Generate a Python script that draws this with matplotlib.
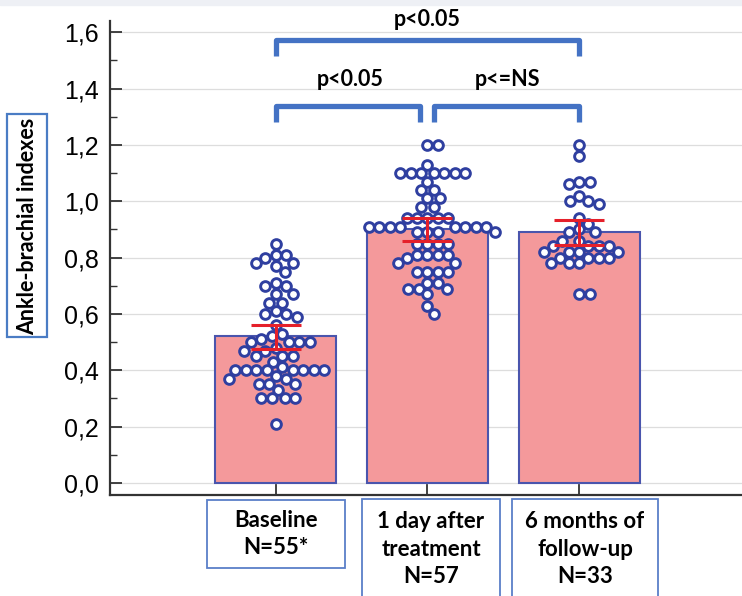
import matplotlib.pyplot as plt
import numpy as np
from matplotlib.patches import Rectangle
from matplotlib.ticker import FixedLocator, FuncFormatter

# group labels
groups = ["Baseline\nN=55*", "1 day after\ntreatment\nN=57", "6 months of\nfollow-up\nN=33"]
means = [0.52, 0.90, 0.89]
err_low = [0.475, 0.86, 0.845]
err_high = [0.56, 0.94, 0.935]

# individual ABI values
baseline = [0.85, 0.81, 0.81, 0.80, 0.78, 0.78, 0.77, 0.75, 0.71, 0.70, 0.70,
            0.67, 0.67, 0.64, 0.64, 0.61, 0.60, 0.60, 0.59, 0.56, 0.53, 0.52,
            0.51, 0.50, 0.50, 0.50, 0.50, 0.48, 0.47, 0.47, 0.45, 0.45, 0.45,
            0.43, 0.41, 0.40, 0.40, 0.40, 0.40, 0.40, 0.40, 0.40, 0.40, 0.38,
            0.37, 0.37, 0.35, 0.35, 0.35, 0.33, 0.30, 0.30, 0.30, 0.30, 0.21]
day1 = [1.20, 1.20, 1.13, 1.10, 1.10, 1.10, 1.10, 1.10, 1.10, 1.10, 1.07,
        1.04, 1.04, 1.01, 1.01, 0.98, 0.98, 0.94, 0.94, 0.94, 0.94, 0.94,
        0.91, 0.91, 0.91, 0.91, 0.91, 0.91, 0.91, 0.91, 0.89, 0.89, 0.89,
        0.89, 0.85, 0.85, 0.85, 0.85, 0.81, 0.81, 0.81, 0.81, 0.80, 0.78,
        0.78, 0.75, 0.75, 0.75, 0.75, 0.71, 0.71, 0.69, 0.69, 0.69, 0.67,
        0.63, 0.60]
month6 = [1.20, 1.16, 1.07, 1.07, 1.06, 1.02, 1.00, 1.00, 0.99, 0.94, 0.92,
          0.90, 0.89, 0.89, 0.86, 0.86, 0.84, 0.84, 0.84, 0.84, 0.82, 0.82,
          0.82, 0.82, 0.80, 0.80, 0.80, 0.80, 0.78, 0.78, 0.78, 0.67, 0.67]
points = [baseline, day1, month6]

yticks = [0.0, 0.2, 0.4, 0.6, 0.8, 1.0, 1.2, 1.4, 1.6]

W, H = 742, 596
PX_X = 152.0   # pixels per category
PX_Y = 281.0   # pixels per ABI unit
DOT = 10.5     # dot spacing in pixels


def swarm(vals):
    # simple beeswarm: closest free offset to the centre line
    placed = []
    offs = []
    for v in vals:
        y = v * PX_Y
        for step in range(0, 200):
            cands = [0.0] if step == 0 else [step * 0.5, -step * 0.5]
            ok = None
            for c in cands:
                if all((c - px) ** 2 + (y - py) ** 2 >= DOT ** 2 for px, py in placed):
                    ok = c
                    break
            if ok is not None:
                break
        placed.append((ok, y))
        offs.append(ok / PX_X)
    return np.array(offs)


fig = plt.figure(figsize=(W / 100, H / 100), dpi=100)
fig.patches.append(Rectangle((0, 1 - 5 / H), 1, 5 / H, transform=fig.transFigure,
                             color="#eef0f5", zorder=0))
ax = fig.add_axes([110 / W, 1 - 495 / H, 1 - 110 / W, (495 - 21) / H])

x = np.arange(len(groups))
ax.bar(x, means, width=0.8, color="#f4999b", edgecolor="#4a55ad", linewidth=1.5, zorder=2)
for i, vals in enumerate(points):
    ax.plot(i + swarm(vals), vals, "o", ms=7.0, mfc="white", mec="#2f3fa0",
            mew=2.1, ls="none", zorder=3)
ax.errorbar(x, means,
            yerr=[np.array(means) - np.array(err_low), np.array(err_high) - np.array(means)],
            fmt="none", ecolor="#e5202a", elinewidth=2.2, capsize=18, capthick=2.2, zorder=4)

ax.set_xlim(-1 - 14 / PX_X, 2 + (W - 579) / PX_X)
ax.set_ylim(-12 / PX_Y, 1.64)
ax.yaxis.set_major_locator(FixedLocator(yticks))
ax.yaxis.set_minor_locator(FixedLocator(np.arange(0.1, 1.6, 0.2)))
ax.yaxis.set_major_formatter(FuncFormatter(lambda v, p: f"{v:.1f}".replace(".", ",")))
ax.set_xticks(x)
ax.set_xticklabels([])
ax.tick_params(axis="both", direction="in", length=8.5, width=1.3, color="#333333")
ax.tick_params(axis="y", which="minor", direction="in", length=5, width=1.0, color="#333333")
ax.tick_params(axis="y", pad=8, labelsize=18)
for lab in ax.get_yticklabels():
    lab.set_fontfamily("Liberation Sans")
ax.grid(axis="y", color="#dddddd", linewidth=0.9, zorder=0)
ax.set_axisbelow(True)
for s in ["top", "right"]:
    ax.spines[s].set_visible(False)
ax.spines["left"].set_linewidth(1.6)
ax.spines["bottom"].set_linewidth(1.6)
ax.spines["left"].set_color("#333333")
ax.spines["bottom"].set_color("#333333")

# significance brackets
bc = "#4472c4"
brackets = [(0, 2, 1.516, 1.573, "p<0.05", 1.0, 1.645),
            (0, 0.95, 1.281, 1.338, "p<0.05", 0.49, 1.434),
            (1.04, 2, 1.281, 1.338, "p<=NS", 1.53, 1.434)]
for x0, x1, ylo, yhi, txt, tx, ty in brackets:
    ax.plot([x0, x0, x1, x1], [ylo, yhi, yhi, ylo], color=bc, lw=3.8,
            solid_joinstyle="round", solid_capstyle="butt", clip_on=False, zorder=5)
    ax.text(tx, ty, txt, ha="center", va="center", fontsize=15.5, fontweight="bold",
            family="Lato", clip_on=False)

# y label in a box
fig.patches.append(Rectangle((7 / W, 1 - 337 / H), 40 / W, 223 / H, transform=fig.transFigure,
                             fill=False, edgecolor="#4a7cc4", linewidth=1.6))
fig.text(28 / W, 1 - 226 / H, "Ankle-brachial indexes", rotation=90, ha="center", va="center",
         fontsize=15.5, fontweight="bold", family="Lato")

# category boxes under the axis
boxes = [(207, 345, 500, 568), (362, 500, 499, 620), (512, 658, 499, 620)]
centers = [534, 549, 549]
for (bx0, bx1, by0, by1), lab, cy in zip(boxes, groups, centers):
    fig.patches.append(Rectangle((bx0 / W, 1 - by1 / H), (bx1 - bx0) / W, (by1 - by0) / H,
                                 transform=fig.transFigure, fill=False,
                                 edgecolor="#5b7fc8", linewidth=1.3))
    fig.text((bx0 + bx1) / 2 / W, 1 - cy / H, lab, ha="center", va="center",
             fontsize=16, fontweight="bold", family="Lato", linespacing=1.38)

fig.savefig("out.png", dpi=100)
